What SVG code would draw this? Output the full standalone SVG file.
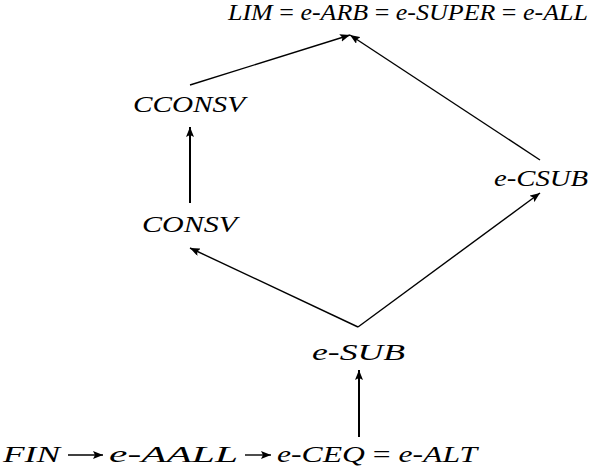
<svg xmlns="http://www.w3.org/2000/svg" width="589" height="475" viewBox="0 0 589 475">
<style>
text{font-family:"Liberation Serif","DejaVu Serif",serif;font-style:italic;font-size:24px;fill:#000}
.u{font-style:normal}
.c{stroke:#000;stroke-width:1.4;fill:none}
.v{stroke-width:2}
</style>
<defs>
<marker id="a" viewBox="0 0 10 8" refX="10" refY="4" markerWidth="10" markerHeight="8" markerUnits="userSpaceOnUse" orient="auto"><path d="M0,0 L10,4 L0,8 L2,4 Z" fill="#000"/></marker>
</defs>
<rect width="589" height="475" fill="#fff"/>
<g id="connectors">
<line class="c" x1="68" y1="455" x2="103" y2="455" marker-end="url(#a)"/>
<line class="c" x1="245" y1="455" x2="271" y2="455" marker-end="url(#a)"/>
<line class="c v" x1="359" y1="437" x2="359" y2="370" marker-end="url(#a)"/>
<line class="c" x1="358" y1="327" x2="190" y2="248" marker-end="url(#a)"/>
<line class="c" x1="358" y1="327" x2="540" y2="193" marker-end="url(#a)"/>
<line class="c v" x1="190" y1="203" x2="190" y2="127" marker-end="url(#a)"/>
<line class="c" x1="190" y1="85" x2="350" y2="35" marker-end="url(#a)"/>
<line class="c" x1="540" y1="160" x2="350" y2="35" marker-end="url(#a)"/>
</g>
<g id="top"><text x="228" y="20" textLength="360" lengthAdjust="spacingAndGlyphs">LIM <tspan class="u">=</tspan> e<tspan class="u">-</tspan>ARB <tspan class="u">=</tspan> e<tspan class="u">-</tspan>SUPER <tspan class="u">=</tspan> e<tspan class="u">-</tspan>ALL</text></g>
<g id="cconsv"><text x="133" y="112" textLength="112" lengthAdjust="spacingAndGlyphs">CCONSV</text></g>
<g id="consv"><text x="142" y="232" textLength="95" lengthAdjust="spacingAndGlyphs">CONSV</text></g>
<g id="ecsub"><text x="494" y="186" textLength="94" lengthAdjust="spacingAndGlyphs">e<tspan class="u">-</tspan>CSUB</text></g>
<g id="esub"><text x="312" y="360" textLength="93" lengthAdjust="spacingAndGlyphs">e<tspan class="u">-</tspan>SUB</text></g>
<g id="fin"><text x="3" y="462" textLength="57" lengthAdjust="spacingAndGlyphs">FIN</text></g>
<g id="eaall"><text x="109" y="462" textLength="129" lengthAdjust="spacingAndGlyphs">e<tspan class="u">-</tspan>AALL</text></g>
<g id="eceq"><text x="277" y="462" textLength="200" lengthAdjust="spacingAndGlyphs">e<tspan class="u">-</tspan>CEQ <tspan class="u">=</tspan> e<tspan class="u">-</tspan>ALT</text></g>
</svg>
